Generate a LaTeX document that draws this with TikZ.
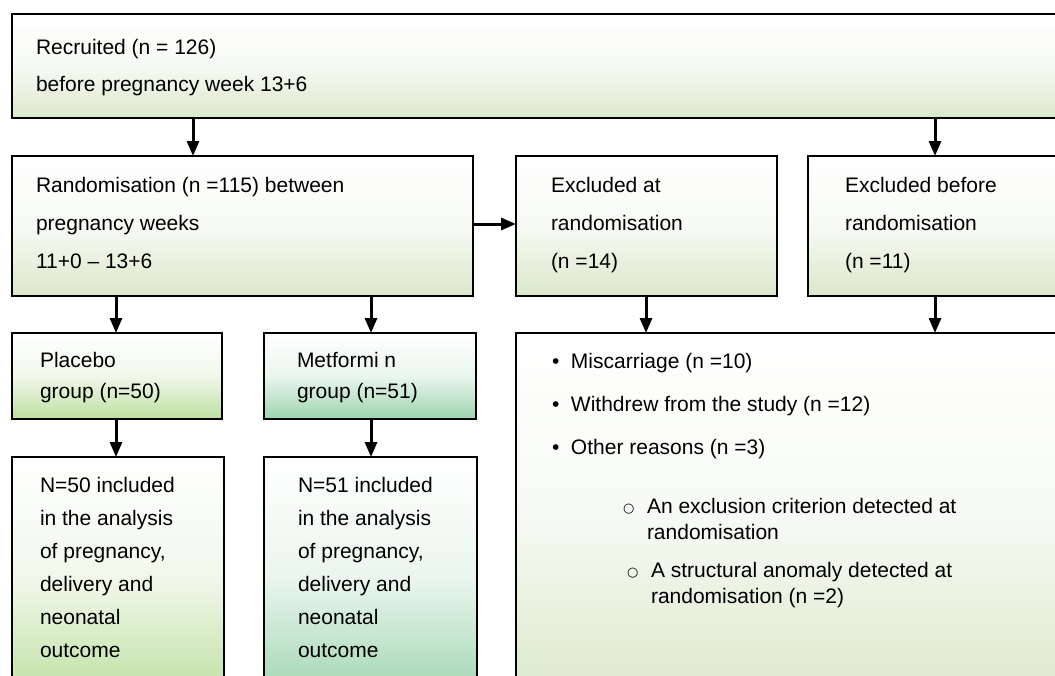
\documentclass[tikz,border=0pt]{standalone}
\usepackage{fontspec}
\setmainfont{Liberation Sans}
\newfontfamily\symfont{DejaVu Sans}
\usetikzlibrary{arrows.meta}
\definecolor{gA}{HTML}{DAE8CA}
\definecolor{gP}{HTML}{BDDFA0}
\definecolor{gM}{HTML}{9ED4AE}
\newcommand{\stk}[2]{\vtop{\baselineskip=#1\relax\lineskiplimit=-20pt\lineskip=0pt\halign{##\hfil\cr#2\crcr}}}
\newcommand{\bul}{\hbox to 9.5pt{\textbullet\hss}}
\newcommand{\wbul}{\hbox to 12pt{\raisebox{0.4pt}{\symfont\fontsize{6.5}{7}\selectfont\char"25CB}\hss}}
\tikzset{
  box/.style={draw=black, line width=1.1pt, rectangle, inner sep=0pt, outer sep=0pt,
    anchor=north west, top color=white, bottom color=#1, middle color=#1!22},
  txt/.style={anchor=base west, inner sep=0pt, outer sep=0pt,
    font=\fontsize{10.5}{12.6}\selectfont},
  arr/.style={line width=1.5pt, -{Triangle[length=7.5pt,width=6pt]}}
}
\begin{document}
\begin{tikzpicture}[x=0.5pt, y=-0.5pt]
\useasboundingbox (0,0) rectangle (1055,675);
\clip (0,0) rectangle (1055,675);
% boxes
\node[box=gA, minimum width=534pt, minimum height=52pt] (rec) at (12,14) {};
\node[box=gA, minimum width=230.5pt, minimum height=70pt] (rand) at (12,156) {};
\node[box=gA, minimum width=130.5pt, minimum height=70pt] (exA) at (516,156) {};
\node[box=gA, minimum width=140pt, minimum height=70pt] (exB) at (808,156) {};
\node[box=gP, minimum width=105pt, minimum height=43pt] (plac) at (12,333) {};
\node[box=gM, minimum width=106pt, minimum height=43pt] (met) at (264,333) {};
\node[box=gP, minimum width=106pt, minimum height=122pt] (n50) at (12,457) {};
\node[box=gM, minimum width=106.5pt, minimum height=122pt] (n51) at (264,457) {};
\node[box=gA, minimum width=290pt, minimum height=184pt] (big) at (516,333) {};
% texts
\node[txt] (trec) at (36,54) {\stk{18.5pt}{Recruited (n = 126)\cr before pregnancy week 13+6}};
\node[txt] (trand) at (36,192) {\stk{19pt}{Randomisation (n =115) between\cr pregnancy weeks\cr 11+0 -- 13+6}};
\node[txt] (texA) at (551,192) {\stk{19pt}{Excluded at\cr randomisation\cr (n =14)}};
\node[txt] (texB) at (845,192) {\stk{19pt}{Excluded before\cr randomisation\cr (n =11)}};
\node[txt] (tplac) at (40,367) {\stk{15.5pt}{Placebo\cr group (n=50)}};
\node[txt] (tmet) at (297,367) {\stk{15.5pt}{Metformi n\cr group (n=51)}};
\node[txt] (tn50) at (40,492) {\stk{16.5pt}{N=50 included\cr in the analysis\cr of pregnancy,\cr delivery and\cr neonatal\cr outcome}};
\node[txt] (tn51) at (298,492) {\stk{16.5pt}{N=51 included\cr in the analysis\cr of pregnancy,\cr delivery and\cr neonatal\cr outcome}};
\node[txt] (tbul) at (552,368) {\stk{21.5pt}{\bul Miscarriage (n =10)\cr \bul Withdrew from the study (n =12)\cr \bul Other reasons (n =3)}};
\node[txt] (tsub1) at (623,513) {\stk{13pt}{\wbul An exclusion criterion detected at\cr \hbox to 12pt{}randomisation}};
\node[txt] (tsub2) at (627,577) {\stk{13pt}{\wbul A structural anomaly detected at\cr \hbox to 12pt{}randomisation (n =2)}};
% arrows
\draw[arr] (193,0 |- rec.south) -- (193,0 |- rand.north);
\draw[arr] (935,0 |- rec.south) -- (935,0 |- exB.north);
\draw[arr] (rand.east |- 0,224) -- (exA.west |- 0,224);
\draw[arr] (116,0 |- rand.south) -- (116,0 |- plac.north);
\draw[arr] (371,0 |- rand.south) -- (371,0 |- met.north);
\draw[arr] (646,0 |- exA.south) -- (646,0 |- big.north);
\draw[arr] (935,0 |- exB.south) -- (935,0 |- big.north);
\draw[arr] (116,0 |- plac.south) -- (116,0 |- n50.north);
\draw[arr] (371,0 |- met.south) -- (371,0 |- n51.north);
\end{tikzpicture}
\end{document}
